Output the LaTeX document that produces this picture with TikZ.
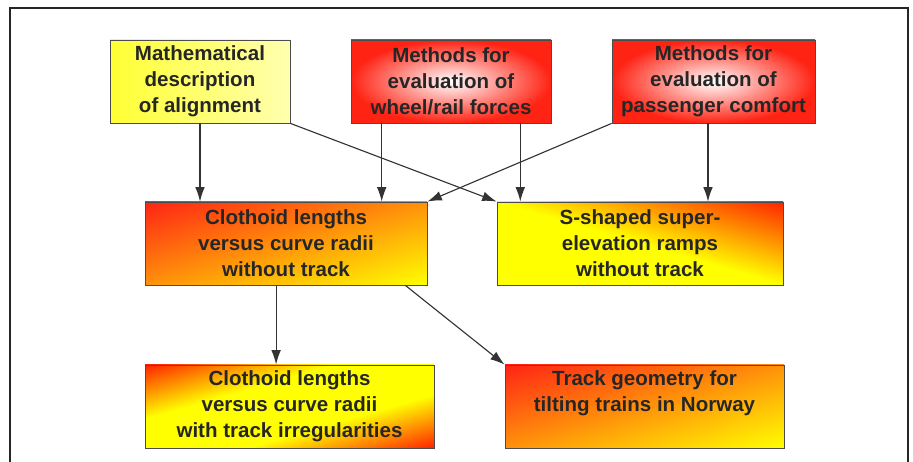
\documentclass[tikz,border=0pt]{standalone}
\usepackage{xcolor}
\usepackage{fontspec}
\setmainfont{Liberation Sans}
\usepackage{tikz}
\usetikzlibrary{shapes,arrows.meta,positioning,calc}

\definecolor{hotred}{RGB}{255,35,20}
\definecolor{hotyellow}{RGB}{255,255,0}
\definecolor{paleyellow}{RGB}{255,255,175}

% red (top left) to yellow (bottom right)
\pgfdeclarefunctionalshading{fadeshade}{\pgfpoint{-50bp}{-50bp}}{\pgfpoint{50bp}{50bp}}{}{
  exch sub neg 100 div 0.5 add
  dup 0 lt {pop 0} if dup 1 gt {pop 1} if
  1 exch dup 0.86 mul 0.14 add exch 1 exch sub 0.08 mul
}
% yellow, turning red at the top right
\pgfdeclarefunctionalshading{riseshade}{\pgfpoint{-50bp}{-50bp}}{\pgfpoint{50bp}{50bp}}{}{
  add 100 div 0.5 add 0.5 sub 0.5 div
  dup 0 lt {pop 0} if dup 1 gt {pop 1} if
  0.86 mul 1 exch sub 1 exch 0
}
% red corners, yellow band between them
\pgfdeclarefunctionalshading{bandshade}{\pgfpoint{-50bp}{-50bp}}{\pgfpoint{50bp}{50bp}}{}{
  exch sub 50 div abs 0.35 sub 0.65 div
  dup 0 lt {pop 0} if dup 1 gt {pop 1} if
  0.86 mul 1 exch sub 1 exch 0
}

\begin{document}
\begin{tikzpicture}[
    block/.style={rectangle, draw=black!70, line width=0.6pt, text=black!85, align=center, minimum height=2.075cm, inner sep=2pt, font=\bfseries\fontsize{14.6}{18.6}\selectfont},
    pale/.style={block, left color=hotyellow!80!white, right color=paleyellow},
    glow/.style={block, inner color=white, outer color=hotred},
    fade/.style={block, shade, shading=fadeshade},
    rise/.style={block, shade, shading=riseshade},
    band/.style={block, shade, shading=bandshade},
    line/.style={draw=black!80, line width=0.8pt, -{Latex[length=3.6mm, width=2.4mm]}}
]
\useasboundingbox (0,0) rectangle (22.825,11.55);

% Frame
\draw [line width=1.3pt, black!85] (0.25,0) -- (0.25,11.35) -- (22.7,11.35) -- (22.7,0);

% Alignment
\node [pale, minimum width=4.5cm] (alignment) at (5.0,9.5125) {Mathematical\\description\\of alignment};

% Wheel/rail forces
\node [glow, minimum width=5cm] (wheelrail) at (11.275,9.5125) {Methods for\\evaluation of\\wheel/rail forces};

% Passenger comfort
\node [glow, minimum width=5.075cm] (comfort) at (17.8375,9.5125) {Methods for\\evaluation of\\passenger comfort};

% Clothoid lengths, no track
\node [fade, minimum width=7.05cm] (clothoid) at (7.15,5.4625) {Clothoid lengths\\versus curve radii\\without track};

% Super-elevation ramps
\node [rise, minimum width=7.15cm] (superelev) at (16.0,5.4625) {S-shaped super-\\elevation ramps\\without track};

% Clothoid lengths, irregular track
\node [band, minimum width=7.225cm] (irregular) at (7.2375,1.3875) {Clothoid lengths\\versus curve radii\\with track irregularities};

% Norway
\node [fade, minimum width=6.975cm, text depth=22pt] (norway) at (16.1125,1.3875) {Track geometry for\\tilting trains in Norway};

% Arrow feet
\coordinate (wheelL) at ($(wheelrail.south west)!0.155!(wheelrail.south east)$);
\coordinate (wheelR) at ($(wheelrail.south west)!0.845!(wheelrail.south east)$);
\coordinate (comfortR) at ($(comfort.south west)!0.473!(comfort.south east)$);
\coordinate (clothL) at ($(clothoid.south west)!0.465!(clothoid.south east)$);
\coordinate (clothR) at ($(clothoid.south west)!0.922!(clothoid.south east)$);

% Connections
\path [line] (alignment.south) -- (alignment.south |- clothoid.north);
\path [line] (alignment.south east) -- (superelev.north west);
\path [line] (wheelL) -- (wheelL |- clothoid.north);
\path [line] (wheelR) -- (wheelR |- superelev.north);
\path [line] (comfort.south west) -- (clothoid.north east);
\path [line] (comfortR) -- (comfortR |- superelev.north);
\path [line] (clothL) -- (clothL |- irregular.north);
\path [line] (clothR) -- (norway.north west);

\end{tikzpicture}
\end{document}
